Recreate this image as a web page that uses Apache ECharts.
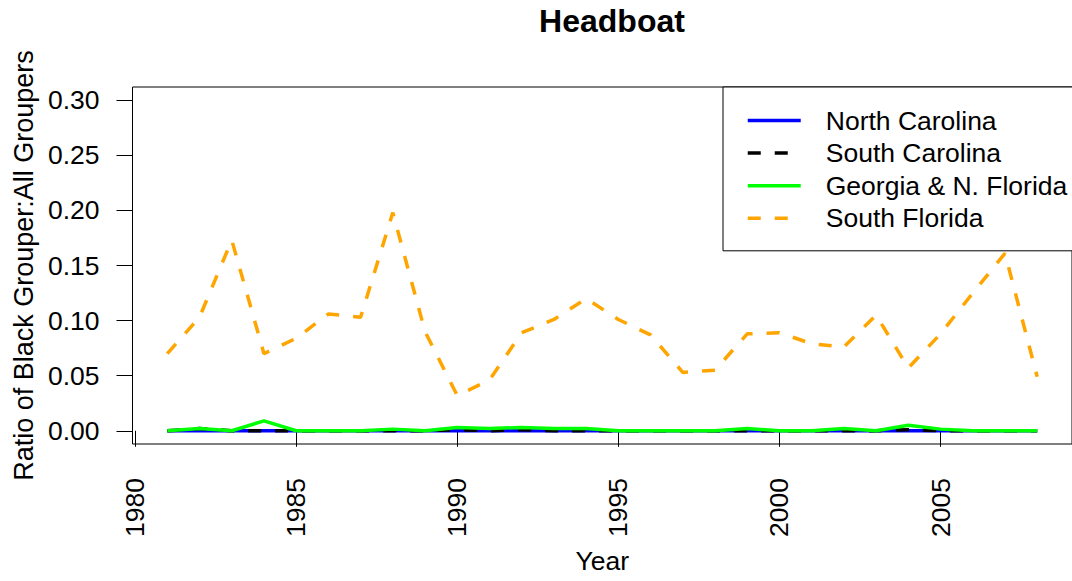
<!DOCTYPE html>
<html>
<head>
<meta charset="utf-8">
<script src="https://cdn.jsdelivr.net/npm/echarts@6/dist/echarts.min.js"></script>
<style>
html,body{margin:0;padding:0;background:#fff;}
#chart{width:1072px;height:581px;}
</style>
</head>
<body>
<div id="chart"></div>
<script>
const years = [1981,1982,1983,1984,1985,1986,1987,1988,1989,1990,1991,1992,1993,1994,1995,1996,1997,1998,1999,2000,2001,2002,2003,2004,2005,2006,2007,2008];
const northCarolina = [0,0,0,0,0,0,0,0,0,0,0,0,0,0,0,0,0,0,0,0,0,0,0,0,0,0,0,0];
const southCarolina = [0,0.002,0,0,0,0,0,0,0,0.001,0,0.001,0,0,0,0,0,0,0,0,0,0,0,0.001,0,0,0,0];
const georgiaNFlorida = [0,0.002,0,0.009,0,0,0,0.0015,0,0.003,0.002,0.003,0.002,0.002,0,0,0,0,0.002,0,0,0.002,0,0.005,0.0015,0,0,0];
const southFlorida = [0.070,0.103,0.173,0.070,0.084,0.106,0.103,0.198,0.090,0.032,0.046,0.089,0.101,0.120,0.101,0.087,0.053,0.055,0.088,0.089,0.079,0.076,0.105,0.057,0.088,0.125,0.161,0.049];
const xTicks = [1980,1985,1990,1995,2000,2005];
const yTicks = [0,0.05,0.10,0.15,0.20,0.25,0.30];
const seriesNames = ['North Carolina','South Carolina','Georgia & N. Florida','South Florida'];

const FONT = 'Liberation Sans, Arial, sans-serif';
const pairs = arr => years.map((y,i)=>[y,arr[i]]);

const chart = echarts.init(document.getElementById('chart'), null, {renderer:'svg'});
const mk = (name, data, color, dashed) => ({
  name, type:'line', data: pairs(data), symbol:'none', symbolSize:0, showSymbol:false,
  lineStyle:{color, width:3.5, type: dashed ? [13,14] : 'solid', cap:'butt'},
  itemStyle:{color}, emphasis:{disabled:true}, animation:false
});
chart.setOption({
  animation:false,
  backgroundColor:'#fff',
  title:{text:'Headboat', left:607, top:0, textAlign:'center',
    textStyle:{fontSize:32, fontWeight:'bold', color:'#000', fontFamily:FONT}},
  grid:{left:132.5, top:87, width:948, height:357, show:true, borderColor:'#000', borderWidth:1, backgroundColor:'transparent'},
  legend:{
    orient:'vertical', left:723, top:87, selectedMode:false,
    data: seriesNames,
    padding:[20,20,19,23], itemGap:5.6, itemWidth:53, itemHeight:14,
    backgroundColor:'#fff', borderColor:'#000', borderWidth:1, borderRadius:0,
    itemStyle:{opacity:0},
    lineStyle:{width:3.5},
    textStyle:{fontSize:26.5, color:'#000', fontFamily:FONT, padding:[0,0,0,20]},
    z:10
  },
  xAxis:{
    type:'value', min:1979.92, max:2009.08,
    name:'Year', nameLocation:'middle', nameGap:103,
    nameTextStyle:{fontSize:26.5, color:'#000', fontFamily:FONT},
    axisLine:{show:false},
    axisTick:{show:true, customValues:xTicks, length:16, lineStyle:{color:'#000', width:1}},
    axisLabel:{customValues:xTicks, rotate:90, margin:34, fontSize:26.5, color:'#000', fontFamily:FONT, formatter: v => String(v)},
    splitLine:{show:false}
  },
  yAxis:{
    type:'value', min:-0.012, max:0.312,
    name:'Ratio of Black Grouper:All Groupers', nameLocation:'middle', nameGap:95,
    nameTextStyle:{fontSize:27, color:'#000', fontFamily:FONT},
    axisLine:{show:false},
    axisTick:{show:true, customValues:yTicks, length:16, lineStyle:{color:'#000', width:1}},
    axisLabel:{customValues:yTicks, margin:33, fontSize:26.5, color:'#000', fontFamily:FONT, formatter: v => v.toFixed(2)},
    splitLine:{show:false}
  },
  series:[
    mk(seriesNames[0], northCarolina, '#0000FF', false),
    mk(seriesNames[1], southCarolina, '#000000', true),
    mk(seriesNames[2], georgiaNFlorida, '#00FF00', false),
    mk(seriesNames[3], southFlorida, '#FFA500', true)
  ]
});
</script>
</body>
</html>
